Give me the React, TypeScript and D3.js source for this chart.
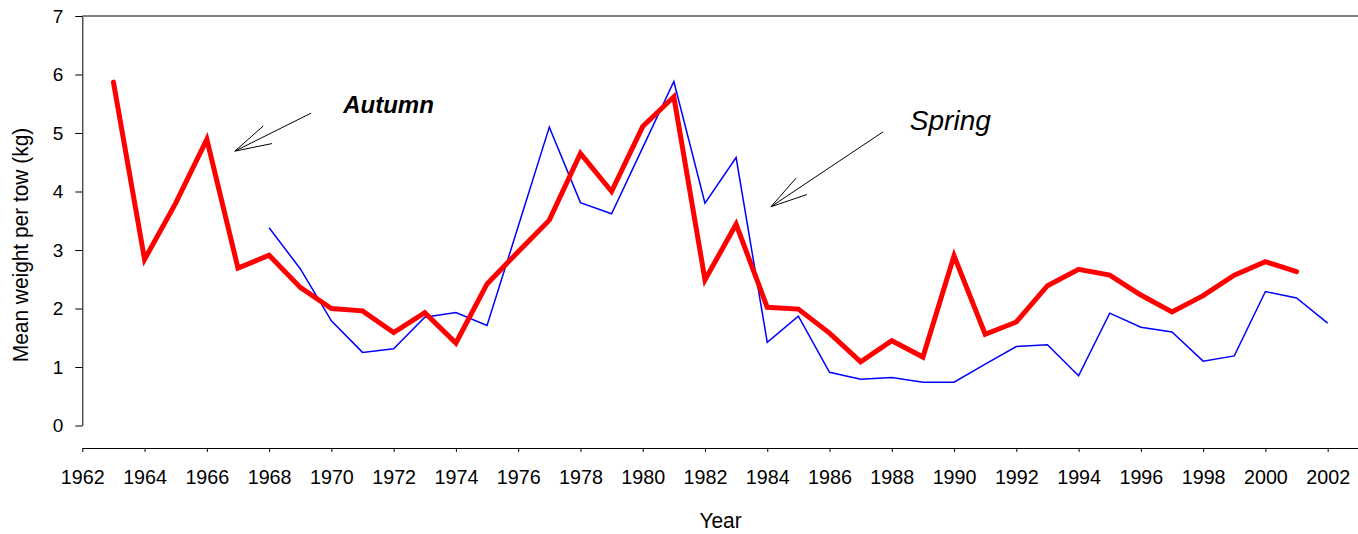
import React, { useEffect, useRef } from "react";
import * as d3 from "d3";

// Autumn survey (thick red) 1963-2001
const autumnYears = d3.range(1963, 2002);
const autumnValues = [
  5.87, 2.84, 3.8, 4.89, 2.69, 2.91, 2.36, 2.0, 1.96, 1.59, 1.93, 1.41, 2.42,
  2.97, 3.51, 4.65, 4.0, 5.11, 5.62, 2.49, 3.44, 2.02, 1.99, 1.58, 1.09, 1.45,
  1.17, 2.9, 1.56, 1.77, 2.39, 2.67, 2.57, 2.23, 1.94, 2.22, 2.57, 2.8, 2.63,
];

// Spring survey (thin blue) 1968-2002
const springYears = d3.range(1968, 2003);
const springValues = [
  3.38, 2.68, 1.79, 1.25, 1.31, 1.85, 1.93, 1.71, 3.4, 5.1, 3.81, 3.62, 4.75,
  5.88, 3.8, 4.58, 1.42, 1.87, 0.91, 0.79, 0.82, 0.74, 0.74, 1.05, 1.35, 1.38,
  0.85, 1.92, 1.68, 1.6, 1.1, 1.19, 2.29, 2.18, 1.75,
];

const xTicks = d3.range(1962, 2003, 2);
const yTicks = [0, 1, 2, 3, 4, 5, 6, 7];

// annotations in data units: label position, arrow tail, arrow tip
const labels = [
  { text: "Autumn", year: 1970.38, value: 5.34, bold: true, size: 24 },
  { text: "Spring", year: 1988.58, value: 5.05, bold: false, size: 28 },
];
const arrows = [
  { from: [1969.35, 5.34], to: [1966.9, 4.69] },
  { from: [1987.72, 5.02], to: [1984.12, 3.74] },
];

const W = 1358;
const H = 534;
const FONT = "'Liberation Sans', Arial, sans-serif";

export default function App() {
  const ref = useRef<SVGSVGElement>(null);

  useEffect(() => {
    const svg = d3.select(ref.current);
    svg.selectAll("*").remove();

    const x = d3.scaleLinear().domain([1962, 2003]).range([82.3, 1358.8]);
    const y = d3.scaleLinear().domain([0, 7]).range([425.5, 16]);

    // top border
    svg.append("line")
      .attr("x1", x(1962)).attr("x2", x(2003))
      .attr("y1", y(7)).attr("y2", y(7))
      .attr("stroke", "#000").attr("stroke-width", 1);

    // Y axis
    const yAxis = svg.append("g")
      .attr("transform", `translate(${x(1962)},0)`)
      .call(d3.axisLeft(y).tickValues(yTicks).tickSize(7).tickSizeOuter(0).tickPadding(12).tickFormat(d3.format("d")));
    yAxis.selectAll("text").attr("font-size", 19).attr("font-family", FONT).attr("fill", "#000");
    yAxis.selectAll("line,path").attr("stroke", "#000");

    // X axis
    const xAxis = svg.append("g")
      .attr("transform", "translate(0,448)")
      .call(d3.axisBottom(x).tickValues(xTicks).tickSize(4).tickSizeOuter(0).tickPadding(17).tickFormat(d3.format("d")));
    xAxis.selectAll("text")
      .attr("font-size", 21).attr("font-family", FONT).attr("fill", "#000")
      .attr("transform", "scale(0.94,1)");
    xAxis.selectAll("line,path").attr("stroke", "#000");

    // axis titles
    svg.append("text")
      .attr("transform", `translate(${(x(1962) + x(2003)) / 2},528) scale(0.95,1)`)
      .attr("text-anchor", "middle")
      .attr("font-size", 22).attr("font-family", FONT)
      .text("Year");
    svg.append("text")
      .attr("transform", "translate(28,245) rotate(-90) scale(0.95,1)")
      .attr("text-anchor", "middle")
      .attr("font-size", 22).attr("font-family", FONT)
      .text("Mean weight per tow (kg)");

    const line = d3.line<[number, number]>().x((d) => x(d[0])).y((d) => y(d[1]));

    svg.append("path")
      .datum(springYears.map((yr, i) => [yr, springValues[i]] as [number, number]))
      .attr("d", line)
      .attr("fill", "none").attr("stroke", "#0000ff").attr("stroke-width", 1.5);

    svg.append("path")
      .datum(autumnYears.map((yr, i) => [yr, autumnValues[i]] as [number, number]))
      .attr("d", line)
      .attr("fill", "none").attr("stroke", "#ff0000").attr("stroke-width", 5)
      .attr("stroke-linecap", "round").attr("stroke-linejoin", "miter");

    // arrows
    arrows.forEach((a) => {
      const x0 = x(a.from[0]), y0 = y(a.from[1]);
      const x1 = x(a.to[0]), y1 = y(a.to[1]);
      const ang = Math.atan2(y0 - y1, x0 - x1);
      const len = 38;
      const spread = (15 * Math.PI) / 180;
      const g = svg.append("g").attr("stroke", "#000").attr("stroke-width", 1).attr("fill", "none");
      g.append("line").attr("x1", x0).attr("y1", y0).attr("x2", x1).attr("y2", y1);
      [-spread, spread].forEach((s) => {
        g.append("line")
          .attr("x1", x1).attr("y1", y1)
          .attr("x2", x1 + len * Math.cos(ang + s))
          .attr("y2", y1 + len * Math.sin(ang + s));
      });
    });

    labels.forEach((l) => {
      svg.append("text")
        .attr("x", x(l.year)).attr("y", y(l.value))
        .attr("font-size", l.size).attr("font-family", FONT)
        .attr("font-style", "italic")
        .attr("font-weight", l.bold ? "bold" : "normal")
        .text(l.text);
    });
  }, []);

  return (
    <svg
      ref={ref}
      width={W}
      height={H}
      style={{ position: "absolute", left: 0, top: 0, background: "#fff" }}
    />
  );
}
